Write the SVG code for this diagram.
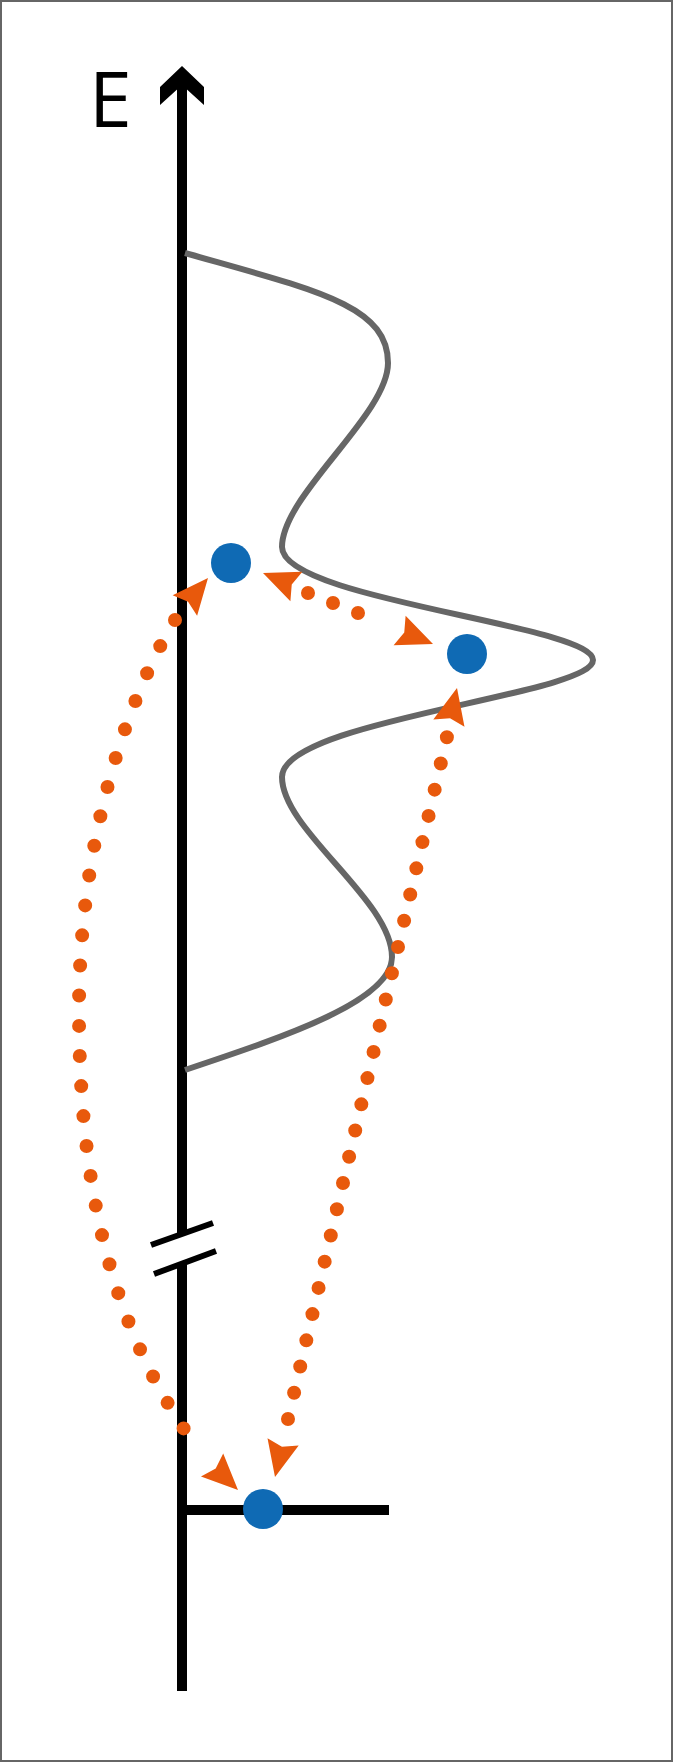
<svg xmlns="http://www.w3.org/2000/svg" width="673" height="1762" viewBox="0 0 673 1762">
<style>
.axis{stroke:#000;stroke-width:10;fill:none}
.tick{stroke:#000;stroke-width:6;fill:none}
.curve{stroke:#666;stroke-width:6;fill:none}
.dots{stroke:#E8590C;stroke-width:14;stroke-linecap:round;fill:none;stroke-dasharray:0 1}
.state{fill:#0F6AB4}
.ah{fill:#E8590C}
.lbl{font-family:"Open Sans","Liberation Sans",sans-serif;font-size:77px;fill:#000}
</style>
<defs>
<path id="arrowhead" d="M0,0 L-36,-16 L-31,0 L-36,16 Z"/>
</defs>
<rect x="1" y="1" width="671" height="1760" fill="#fff" stroke="#666" stroke-width="2"/>
<g id="axis">
<line class="axis" x1="182" y1="84" x2="182" y2="1234"/>
<line class="axis" x1="182" y1="1263" x2="182" y2="1691"/>
<polygon points="182,66 204,87 204,105 182,85 160,105 160,87" fill="#000"/>
<line class="tick" x1="151" y1="1245" x2="213" y2="1223"/>
<line class="tick" x1="154" y1="1274" x2="216" y2="1251"/>
<line class="axis" x1="177" y1="1510" x2="389" y2="1510" stroke-width="9"/>
<text class="lbl" x="89" y="127">E</text>
</g>
<g id="potential">
<path class="curve" d="M185,253 C315,290 388,305 388,363 C388,415 282,495 282,547 C282,600 593,625 593,660 C593,695 282,720 282,777 C282,830 392,900 392,957 C392,1000 290,1035 185,1070"/>
</g>
<g id="connectors">
<path class="dots" pathLength="29" d="M175,620 C128,696.5 79,840 79,1010 C79,1200 117,1341 201,1453"/>
<path class="dots" pathLength="27" d="M453,711 L288,1419"/>
<path class="dots" pathLength="3" d="M308,593 L383,623"/>
<use href="#arrowhead" class="ah" transform="translate(208,578) rotate(-50)"/>
<use href="#arrowhead" class="ah" transform="translate(238,1490) rotate(44)"/>
<use href="#arrowhead" class="ah" transform="translate(263,573) rotate(-158)"/>
<use href="#arrowhead" class="ah" transform="translate(433,644) rotate(22)"/>
<use href="#arrowhead" class="ah" transform="translate(457,688) rotate(-77)"/>
<use href="#arrowhead" class="ah" transform="translate(275,1477) rotate(103)"/>
</g>
<g id="state-upper"><circle class="state" cx="231" cy="563" r="20"/></g>
<g id="state-resonant"><circle class="state" cx="467" cy="654" r="20"/></g>
<g id="state-ground"><circle class="state" cx="263" cy="1509" r="20"/></g>
</svg>
